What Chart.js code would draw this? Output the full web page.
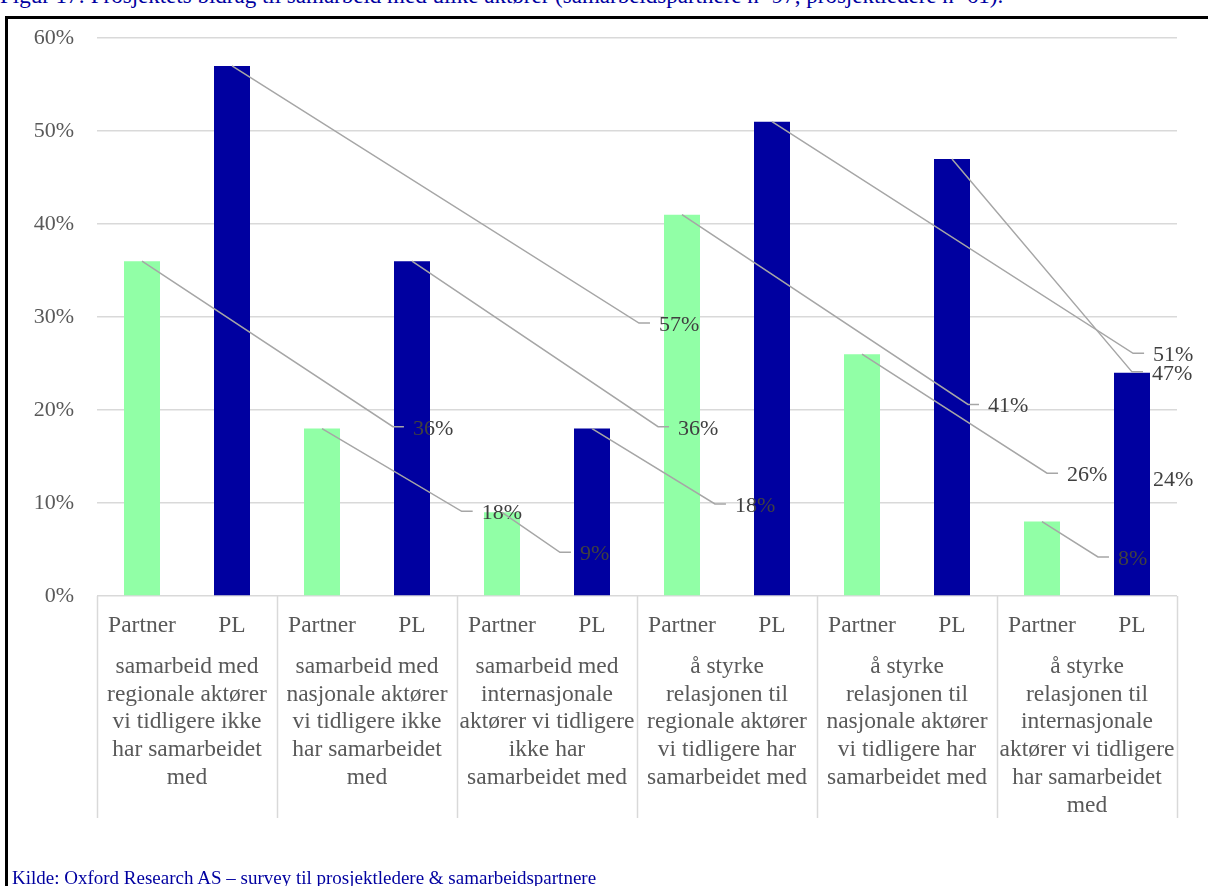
<!DOCTYPE html>
<html>
<head>
<meta charset="utf-8">
<script src="https://cdn.jsdelivr.net/npm/chart.js@4.4.1/dist/chart.umd.min.js"></script>
<style>
  html, body { margin: 0; padding: 0; background: #fff; overflow: hidden; }
  #wrap { position: relative; width: 1208px; height: 886px; overflow: hidden; }
  #chart { position: absolute; left: 0; top: 0; }
  .caption {
    position: absolute;
    font-family: "Liberation Serif", "Times New Roman", serif;
    color: #0000a0;
    white-space: nowrap;
    line-height: 1.15;
  }
  #title { left: 0; top: -17px; font-size: 23px; }
  #source { left: 12px; top: 867px; font-size: 19px; }
  #frameTop { position: absolute; left: 5px; top: 16px; width: 1203px; height: 3px; background: #000; }
  #frameLeft { position: absolute; left: 5px; top: 16px; width: 3px; height: 870px; background: #000; }
</style>
</head>
<body>
<div id="wrap">
  <div id="title" class="caption">Figur 17: Prosjektets bidrag til samarbeid med ulike aktører (samarbeidspartnere n=97, prosjektledere n=61).</div>
  <div id="frameTop"></div>
  <div id="frameLeft"></div>
  <canvas id="chart" width="1208" height="886"></canvas>
  <div id="source" class="caption">Kilde: Oxford Research AS – survey til prosjektledere &amp; samarbeidspartnere</div>
</div>
<script>
// Purposes of the collaboration (one group of bars each)
const categories = [
  ['samarbeid med', 'regionale aktører', 'vi tidligere ikke', 'har samarbeidet', 'med'],
  ['samarbeid med', 'nasjonale aktører', 'vi tidligere ikke', 'har samarbeidet', 'med'],
  ['samarbeid med', 'internasjonale', 'aktører vi tidligere', 'ikke har', 'samarbeidet med'],
  ['å styrke', 'relasjonen til', 'regionale aktører', 'vi tidligere har', 'samarbeidet med'],
  ['å styrke', 'relasjonen til', 'nasjonale aktører', 'vi tidligere har', 'samarbeidet med'],
  ['å styrke', 'relasjonen til', 'internasjonale', 'aktører vi tidligere', 'har samarbeidet', 'med']
];
// Respondent groups within each purpose
const respondentGroups = ['Partner', 'PL'];
// Share answering yes (%)
const partnerValues = [36, 18, 9, 41, 26, 8];
const plValues = [57, 36, 18, 51, 47, 24];
// Value axis ticks (%)
const yTicks = [0, 10, 20, 30, 40, 50, 60];

// Elbow of each value label's leader line, as [category position, percent]
const partnerLabelAt = [[1.144, 18.2], [1.526, 9.1], [2.072, 4.7], [4.339, 20.6], [4.778, 13.2], [5.061, 4.2]];
const plLabelAt = [[2.511, 29.35], [2.617, 18.2], [2.933, 9.9], [5.256, 26.1], [5.25, 24.1], [5.256, 12.7]];
const plHasLeader = [true, true, true, true, true, false];

const FONT = "'Liberation Serif', 'Times New Roman', serif";
const subLabels = categories.flatMap(() => respondentGroups);

// Value labels placed beside the bars, joined to each bar top by a leader line
const valueLabels = {
  id: 'valueLabels',
  afterDatasetsDraw(chart) {
    const { ctx, scales: { x, y } } = chart;
    ctx.save();
    chart.data.datasets.forEach((ds, d) => {
      const meta = chart.getDatasetMeta(d);
      ds.data.forEach((v, i) => {
        const bar = meta.data[i];
        const [cx, cv] = ds.labelAt[i];
        const ex = x.getPixelForValue(cx);
        const ey = y.getPixelForValue(cv);
        if (ds.leader[i]) {
          ctx.strokeStyle = '#a6a6a6';
          ctx.lineWidth = 1.5;
          ctx.beginPath();
          ctx.moveTo(bar.x, bar.y);
          ctx.lineTo(ex, ey);
          ctx.lineTo(ex + 11, ey);
          ctx.stroke();
        }
        ctx.fillStyle = '#404040';
        ctx.font = '22px ' + FONT;
        ctx.textAlign = 'left';
        ctx.textBaseline = 'middle';
        ctx.fillText(v + '%', ex + 20, ey + 2);
      });
    });
    ctx.restore();
  }
};

// Vertical separators between the purpose groups under the plot
const groupSeparators = {
  id: 'groupSeparators',
  afterDraw(chart) {
    const { ctx, chartArea, scales: { x } } = chart;
    ctx.save();
    ctx.strokeStyle = '#d9d9d9';
    ctx.lineWidth = 1.5;
    for (let i = 0; i <= categories.length; i++) {
      const px = Math.round(x.getPixelForValue(i - 0.5)) + 0.5;
      ctx.beginPath();
      ctx.moveTo(px, chartArea.bottom);
      ctx.lineTo(px, x.bottom);
      ctx.stroke();
    }
    ctx.restore();
  }
};

new Chart(document.getElementById('chart'), {
  type: 'bar',
  data: {
    labels: categories,
    datasets: [
      {
        label: respondentGroups[0],
        data: partnerValues,
        xAxisID: 'x',
        yAxisID: 'y',
        backgroundColor: '#91ffa6',
        labelAt: partnerLabelAt,
        leader: partnerValues.map(() => true)
      },
      {
        label: respondentGroups[1],
        data: plValues,
        xAxisID: 'x',
        yAxisID: 'y',
        backgroundColor: '#0000a0',
        labelAt: plLabelAt,
        leader: plHasLeader
      }
    ]
  },
  options: {
    responsive: false,
    animation: false,
    devicePixelRatio: 1,
    layout: { padding: { left: 0, right: 31, top: 38, bottom: 68 } },
    datasets: { bar: { categoryPercentage: 1.0, barPercentage: 0.4 } },
    plugins: { legend: { display: false }, tooltip: { enabled: false } },
    scales: {
      x: {
        position: 'bottom',
        weight: 2,
        afterFit(s) { s.height = 177; },
        grid: { display: false },
        border: { display: false },
        ticks: {
          autoSkip: false,
          maxRotation: 0,
          padding: 4,
          color: '#595959',
          font: { family: FONT, size: 23.5, lineHeight: 1.18 }
        }
      },
      y: {
        min: yTicks[0],
        max: yTicks[yTicks.length - 1],
        afterBuildTicks(s) { s.ticks = yTicks.map(v => ({ value: v })); },
        afterFit(s) { s.width = 97; },
        grid: { color: '#d9d9d9', lineWidth: 1.5, drawTicks: false },
        border: { display: false },
        ticks: {
          padding: 23,
          color: '#595959',
          font: { family: FONT, size: 22 },
          callback: v => v + '%'
        }
      },
      sub: {
        type: 'category',
        position: 'bottom',
        weight: 1,
        labels: subLabels,
        offset: true,
        afterFit(s) { s.height = 45; },
        grid: { display: false },
        border: { display: false },
        ticks: {
          autoSkip: false,
          maxRotation: 0,
          padding: 8,
          color: '#595959',
          font: { family: FONT, size: 23.5, lineHeight: 1.18 }
        }
      }
    }
  },
  plugins: [valueLabels, groupSeparators]
});
</script>
</body>
</html>
